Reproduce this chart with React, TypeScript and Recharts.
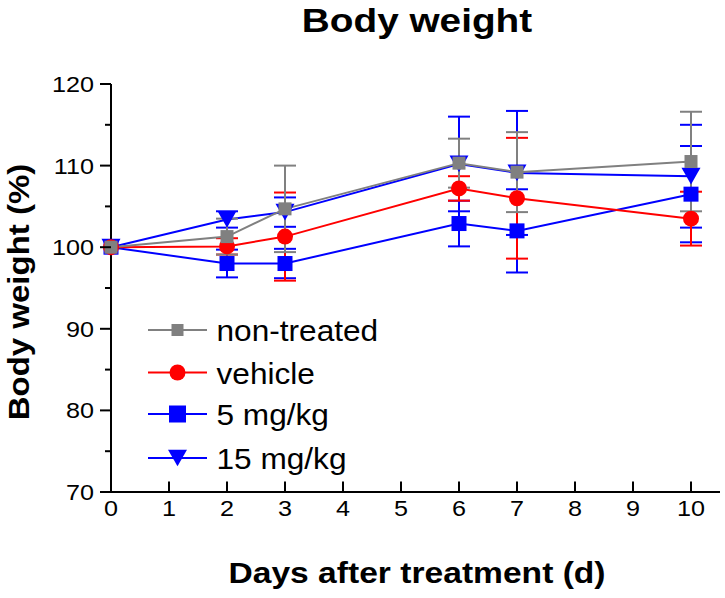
import React from 'react';
import { ComposedChart, Line, XAxis, YAxis, ErrorBar } from 'recharts';

// ---- data ----
const days = [0, 2, 3, 6, 7, 10];
const nonTreated = [100, 101.3, 104.7, 110.3, 109.2, 110.5];
const nonTreatedSem = [null, 2.2, 5.3, 3.0, 4.9, 6.1];
const vehicle = [100, 100.1, 101.3, 107.2, 106.0, 103.5];
const vehicleSem = [null, 1.0, 5.4, 1.5, 7.4, 3.3];
const mg5 = [100, 98.0, 98.0, 102.9, 102.0, 106.5];
const mg5Sem = [null, 1.7, 1.8, 2.8, 5.1, 5.9];
const mg15 = [100, 103.4, 104.3, 110.2, 109.1, 108.7];
const mg15Sem = [null, 1.0, 1.8, 5.8, 7.6, 6.3];

const xTicks = [0, 1, 2, 3, 4, 5, 6, 7, 8, 9, 10];
const yTicks = [70, 75, 80, 85, 90, 95, 100, 105, 110, 115, 120];
const yLabelTicks = [70, 80, 90, 100, 110, 120];

const seriesNames = ['non-treated', 'vehicle', '5 mg/kg', '15 mg/kg'];

const data = days.map((d, i) => ({
  day: d,
  nt: nonTreated[i],
  ntErr: nonTreatedSem[i],
  veh: vehicle[i],
  vehErr: vehicleSem[i],
  m5: mg5[i],
  m5Err: mg5Sem[i],
  m15: mg15[i],
  m15Err: mg15Sem[i],
}));

const GRAY = '#808080';
const RED = '#ff0000';
const BLUE = '#0000ff';
const FONT = '"Liberation Sans", Arial, Helvetica, sans-serif';
const SX = 1.12; // horizontal text stretch

type Shape = 'square' | 'circle' | 'triangle';

const marker = (shape: Shape, cx: number, cy: number, color: string, size: number, key?: any) => {
  if (shape === 'square') {
    return <rect key={key} x={cx - size / 2} y={cy - size / 2} width={size} height={size} fill={color} />;
  }
  if (shape === 'circle') {
    return <circle key={key} cx={cx} cy={cy} r={size / 2} fill={color} />;
  }
  const w = size;
  const h = size * 0.88;
  return (
    <path
      key={key}
      d={`M${cx - w / 2},${cy - h / 2}L${cx + w / 2},${cy - h / 2}L${cx},${cy + h / 2}Z`}
      fill={color}
    />
  );
};

const seriesCfg = [
  { key: 'nt', err: 'ntErr', name: seriesNames[0], color: GRAY, shape: 'square' as Shape, size: 13, lsize: 12 },
  { key: 'veh', err: 'vehErr', name: seriesNames[1], color: RED, shape: 'circle' as Shape, size: 16, lsize: 16 },
  { key: 'm5', err: 'm5Err', name: seriesNames[2], color: BLUE, shape: 'square' as Shape, size: 15, lsize: 17 },
  { key: 'm15', err: 'm15Err', name: seriesNames[3], color: BLUE, shape: 'triangle' as Shape, size: 19, lsize: 19 },
];

const XTick = (props: any) => {
  const { x, y, payload } = props;
  return (
    <g>
      {payload.value !== 0 && (
        <line x1={x} y1={y} x2={x} y2={y - 10.5} stroke="#000" strokeWidth={2} />
      )}
      <text
        transform={`translate(${x},${y + 24}) scale(${SX},1)`}
        textAnchor="middle"
        fontSize={22.5}
        fill="#000"
        fontFamily={FONT}
      >
        {payload.value}
      </text>
    </g>
  );
};

const YTick = (props: any) => {
  const { x, y, payload } = props;
  const major = yLabelTicks.includes(payload.value);
  return (
    <g>
      <line x1={x} y1={y} x2={x - (major ? 11 : 6)} y2={y} stroke="#000" strokeWidth={2} />
      {major && (
        <text
          transform={`translate(${x - 17},${y + 8}) scale(${SX},1)`}
          textAnchor="end"
          fontSize={22.5}
          fill="#000"
          fontFamily={FONT}
        >
          {payload.value}
        </text>
      )}
    </g>
  );
};

const legendRows = [330, 372.5, 414, 458];

export default function App() {
  const drawOrder = [seriesCfg[3], seriesCfg[2], seriesCfg[1], seriesCfg[0]];
  return (
    <div style={{ position: 'absolute', left: 0, top: 0, width: 725, height: 598, background: '#fff' }}>
      <ComposedChart
        width={725}
        height={598}
        data={data}
        margin={{ top: 84, right: 5, bottom: 46, left: 11 }}
        style={{ fontFamily: FONT }}
      >
        <XAxis
          dataKey="day"
          type="number"
          domain={[0, 10.5]}
          ticks={xTicks}
          interval={0}
          height={60}
          tickSize={0}
          tickMargin={0}
          tickLine={false}
          axisLine={{ stroke: '#000', strokeWidth: 2 }}
          tick={<XTick />}
        />
        <YAxis
          type="number"
          domain={[70, 120]}
          ticks={yTicks}
          interval={0}
          width={100}
          tickSize={0}
          tickMargin={0}
          tickLine={false}
          axisLine={{ stroke: '#000', strokeWidth: 2 }}
          tick={<YTick />}
        />
        {drawOrder.map((s) => (
          <Line
            key={s.key}
            dataKey={s.key}
            name={s.name}
            stroke={s.color}
            strokeWidth={2}
            isAnimationActive={false}
            dot={(p: any) => marker(s.shape, p.cx, p.cy, s.color, s.size, p.key ?? `${s.key}-${p.index}`)}
            activeDot={false}
          >
            <ErrorBar dataKey={s.err} width={11} stroke={s.color} strokeWidth={2} direction="y" />
          </Line>
        ))}
        <text
          transform={`translate(417,32) scale(1.14,1)`}
          textAnchor="middle"
          fontSize={34}
          fontWeight="bold"
          fill="#000"
          fontFamily={FONT}
        >
          Body weight
        </text>
        <text
          transform={`translate(417,583) scale(${SX},1)`}
          textAnchor="middle"
          fontSize={30}
          fontWeight="bold"
          fill="#000"
          fontFamily={FONT}
        >
          Days after treatment (d)
        </text>
        <text
          transform={`translate(29,292) rotate(-90) scale(1.1,1)`}
          textAnchor="middle"
          fontSize={30}
          fontWeight="bold"
          fill="#000"
          fontFamily={FONT}
        >
          Body weight (%)
        </text>
        <g>
          {seriesCfg.map((s, i) => (
            <g key={s.key}>
              <line x1={148} y1={legendRows[i]} x2={207} y2={legendRows[i]} stroke={s.color} strokeWidth={2} />
              {marker(s.shape, 177.5, legendRows[i], s.color, s.lsize)}
              <text
                transform={`translate(216.5,${legendRows[i] + 11}) scale(1.09,1)`}
                fontSize={29}
                fill="#000"
                fontFamily={FONT}
              >
                {s.name}
              </text>
            </g>
          ))}
        </g>
      </ComposedChart>
    </div>
  );
}
